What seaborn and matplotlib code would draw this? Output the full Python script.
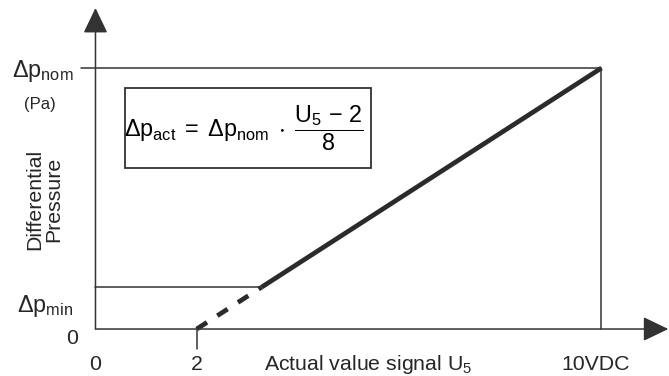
import matplotlib
matplotlib.use("Agg")
import matplotlib.pyplot as plt
from matplotlib.patches import Rectangle
import seaborn as sns
import pandas as pd

# Characteristic: control signal U5 (V DC) against normalised differential pressure
signal_v = [2, 10]          # signal range of U5
pressure_frac = [0.0, 1.0]  # Δp as fraction of Δp_nom
dp_min_frac = 0.16          # Δp_min as fraction of Δp_nom
x_tick_values = [0, 2]
x_tick_labels = ["0", "2"]

sns.set_theme(style="white")
plt.rcParams["font.family"] = ["Liberation Sans", "DejaVu Sans"]
plt.rcParams["mathtext.fontset"] = "custom"
plt.rcParams["mathtext.rm"] = "Liberation Sans"
plt.rcParams["mathtext.it"] = "Liberation Sans"
plt.rcParams["mathtext.bf"] = "Liberation Sans:bold"
plt.rcParams["mathtext.default"] = "regular"

W, H = 669, 376
fig = plt.figure(figsize=(W / 100, H / 100), dpi=100)
ax = fig.add_axes([0, 0, 1, 1])
ax.set_xlim(-1.887, 11.334)
ax.set_ylim(-0.180, 1.2605)
ax.axis("off")

ink = "#333333"
thin = 1.1
fs = 15.3
fs_math = 16.8

# Line of the characteristic, split at Δp_min into extrapolated and operating part
x0, x1 = signal_v
y0, y1 = pressure_frac
x_at_min = x0 + (dp_min_frac - y0) / (y1 - y0) * (x1 - x0)
df = pd.DataFrame({
    "signal": [x0, x_at_min, x_at_min, x1],
    "pressure": [y0, dp_min_frac, dp_min_frac, y1],
    "segment": ["below", "below", "operating", "operating"],
})
sns.lineplot(data=df, x="signal", y="pressure", style="segment",
             dashes={"below": (2.6, 2.6), "operating": ""},
             color="#2b2b2b", lw=3.4, legend=False, ax=ax,
             solid_capstyle="butt", dash_capstyle="butt", sort=False,
             estimator=None, units="segment")

# Reference lines for Δp_nom, Δp_min and the 10 V limit
ax.plot([-0.29, x1], [y1, y1], color=ink, lw=thin)
ax.plot([x1, x1], [0, y1], color=ink, lw=thin)
ax.plot([0, x_at_min], [dp_min_frac, dp_min_frac], color=ink, lw=thin)
ax.plot([x0, x0], [0, -0.077], color=ink, lw=thin)

# Axes with arrow heads
arrow = dict(arrowstyle="-|>,head_length=1.58,head_width=0.76",
             mutation_scale=10, lw=thin, color=ink, shrinkA=0, shrinkB=0)
ax.annotate("", xy=(11.32, 0), xytext=(0, 0), arrowprops=arrow, annotation_clip=False)
ax.annotate("", xy=(0, 1.23), xytext=(0, 0), arrowprops=arrow, annotation_clip=False)


def fx(px):
    return px / W


def fy(py):
    return 1 - py / H


# Formula box
ax.add_patch(Rectangle((fx(125), fy(168)), fx(371) - fx(125), fy(88) - fy(168),
                       transform=fig.transFigure, fill=False, ec=ink, lw=1.3))
fig.text(fx(244), fy(128),
         r"$\Delta p_{act}\;=\;\Delta p_{nom}\;\cdot\;\dfrac{U_5\,-\,2}{8}$",
         ha="center", va="center", fontsize=fs_math, color="black")

# Y-axis labels
fig.text(fx(74), fy(77), r"$\Delta p_{nom}$", ha="right", va="baseline", fontsize=fs_math)
fig.text(fx(40), fy(104), "(Pa)", ha="center", va="center", fontsize=12)
fig.text(fx(73), fy(312), r"$\Delta p_{min}$", ha="right", va="baseline", fontsize=fs_math)
fig.text(fx(72), fy(339), "0", ha="center", va="center", fontsize=fs)
fig.text(fx(44), fy(199), "Differential\nPressure", rotation=90,
         ha="center", va="center", fontsize=fs, linespacing=1.0)

# X-axis labels
for v, lab in zip(x_tick_values, x_tick_labels):
    ax.text(v, fy(365), lab, transform=ax.get_xaxis_transform(),
            ha="center", va="center", fontsize=fs)
fig.text(fx(368), fy(365), r"Actual value signal U$_5$", ha="center", va="center", fontsize=fs)
ax.text(x1 - 0.12, fy(365), "10VDC", transform=ax.get_xaxis_transform(),
        ha="center", va="center", fontsize=fs)

fig.savefig("out.png", dpi=100)
